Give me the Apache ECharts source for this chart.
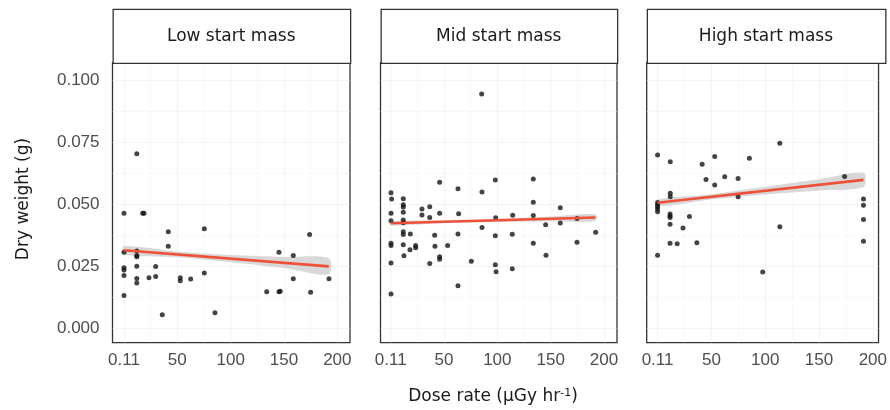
<!DOCTYPE html>
<html>
<head>
<meta charset="utf-8">
<script src="https://cdn.jsdelivr.net/npm/echarts@6/dist/echarts.min.js"></script>
<style>
html,body{margin:0;padding:0;background:#fff;}
#chart{width:890px;height:410px;}
</style>
</head>
<body>
<div id="chart"></div>
<script>
// ---------- data ----------
const panelTitles = ['Low start mass', 'Mid start mass', 'High start mass'];

const lowX = [12, 0, 17.5, 18.8, 41.5, 75.3, 174, 41.5, 0, 12, 12, 12, 145.3, 158.7, 12, 29.7, 0, 0, 0, 12, 12, 23.4, 29.7, 52.8, 52.8, 62.5, 75.3, 158.7, 192.2, 0, 133.8, 145.3, 146.5, 175, 35.9, 85.3];
const lowY = [0.0705, 0.0464, 0.0464, 0.0464, 0.0390, 0.0402, 0.0379, 0.0331, 0.0307, 0.0312, 0.0294, 0.0289, 0.0307, 0.0294, 0.0251, 0.0250, 0.0244, 0.0235, 0.0213, 0.0201, 0.0183, 0.0204, 0.0209, 0.0204, 0.0192, 0.0199, 0.0223, 0.0200, 0.0200, 0.0132, 0.0148, 0.0148, 0.0150, 0.0146, 0.0055, 0.0063];

const midX = [85.3, 0.3, 0.9, 11.8, 11.8, 11.8, 11.8, 11.8, 11.8, 11.8, 11.8, 11.8, 12.4, 45.9, 63.1, 98.1, 133.7, 85.6, 133.7, 29.3, 36.6, 159, 0.3, 0.3, 0.3, 0.3, 0.3, 0.3, 18.4, 18.1, 23.4, 23.4, 29.3, 36.6, 36.6, 41.2, 41.5, 45.9, 45.9, 45.9, 53.4, 63.7, 63.1, 63.1, 75.6, 85.6, 98.4, 98.1, 98.1, 98.8, 114.4, 114, 114, 133.7, 133.7, 145.3, 145.6, 159, 174.7, 174.7, 192.2];
const midY = [0.0946, 0.0547, 0.0522, 0.0523, 0.0499, 0.0490, 0.0468, 0.0437, 0.0426, 0.0390, 0.0379, 0.0337, 0.0293, 0.0590, 0.0563, 0.0599, 0.0603, 0.0550, 0.0509, 0.0482, 0.0491, 0.0487, 0.0464, 0.0434, 0.0343, 0.0334, 0.0264, 0.0139, 0.0381, 0.0317, 0.0334, 0.0325, 0.0457, 0.0447, 0.0262, 0.0376, 0.0331, 0.0464, 0.0289, 0.0279, 0.0334, 0.0462, 0.0381, 0.0172, 0.0271, 0.0407, 0.0446, 0.0374, 0.0257, 0.0228, 0.0456, 0.0380, 0.0240, 0.0455, 0.0343, 0.0418, 0.0295, 0.0425, 0.0443, 0.0347, 0.0388];

const highX = [0, 11.8, 41.4, 53.1, 85.3, 113.6, 45, 62.4, 53.1, 74.8, 173.8, 11.8, 11.8, 74.8, 191.3, 191.3, 0, 0, 0, 0, 0, 11.6, 11.6, 11.6, 11.6, 29.6, 23.6, 11.6, 18.2, 36.5, 0, 113.6, 97.7, 191.3, 191.3];
const highY = [0.0700, 0.0672, 0.0662, 0.0693, 0.0686, 0.0747, 0.0601, 0.0612, 0.0578, 0.0605, 0.0613, 0.0545, 0.0531, 0.0531, 0.0522, 0.0497, 0.0508, 0.0499, 0.0491, 0.0482, 0.0470, 0.0461, 0.0453, 0.0447, 0.0420, 0.0451, 0.0405, 0.0343, 0.0341, 0.0345, 0.0295, 0.0410, 0.0227, 0.0439, 0.0351];

// fitted trend lines (endpoints)
const fitX = [[0, 192], [0, 192], [0, 191.3]];
const fitY = [[0.0315, 0.0250], [0.0424, 0.0447], [0.0507, 0.0599]];

// confidence ribbons
const ribbonX = [[0, 50, 100, 150, 192], [0, 50, 100, 150, 192], [0, 50, 100, 150, 191.3]];
const ribbonLow = [[0.0298, 0.0287, 0.0267, 0.0243, 0.0218], [0.0415, 0.0425, 0.0429, 0.0432, 0.0433], [0.0493, 0.0520, 0.0540, 0.0556, 0.0570]];
const ribbonHigh = [[0.0332, 0.0310, 0.0296, 0.0288, 0.0283], [0.0432, 0.0435, 0.0441, 0.0451, 0.0460], [0.0520, 0.0541, 0.0571, 0.0602, 0.0628]];

// axis ticks
const xTicks = [0, 50, 100, 150, 200];
const xTickLabels = ['0.11', '50', '100', '150', '200'];
const xMinor = [25, 75, 125, 175];
const yTicks = [0, 0.025, 0.05, 0.075, 0.1];
const yTickLabels = ['0.000', '0.025', '0.050', '0.075', '0.100'];
const yMinor = [0.0125, 0.0375, 0.0625, 0.0875];

// ---------- layout ----------
const gridLeft = [112.5, 380.5, 646.7];
const gridWidth = [237.5, 236.5, 238.5];
const gridTop = 62.7, gridHeight = 280, stripTop = 8.7;
const xMin = [-10.78, -9.56, -10.1];
const xMax = [211.9, 212.2, 205.3];
const yMin = -0.0058, yMax = 0.1072;

const pointsX = [lowX, midX, highX];
const pointsY = [lowY, midY, highY];

const TICK_FONT = '"Liberation Sans", Arial, sans-serif';
const TITLE_FONT = '"DejaVu Sans", sans-serif';
const FRAME = '#333333';

const grids = [], xAxes = [], yAxes = [], series = [], graphics = [];

for (let i = 0; i < 3; i++) {
  grids.push({
    left: gridLeft[i], top: gridTop, width: gridWidth[i], height: gridHeight,
    show: true, borderColor: FRAME, borderWidth: 1.3, backgroundColor: '#fff', containLabel: false
  });
  xAxes.push({
    gridIndex: i, type: 'value', min: xMin[i], max: xMax[i],
    axisLine: { show: false }, axisTick: { show: false }, splitLine: { show: false },
    axisLabel: {
      customValues: xTicks,
      formatter: v => xTickLabels[xTicks.indexOf(v)] ?? '',
      fontSize: 17, color: '#4d4d4d', fontFamily: TICK_FONT, margin: 9
    }
  });
  yAxes.push({
    gridIndex: i, type: 'value', min: yMin, max: yMax,
    axisLine: { show: false }, axisTick: { show: false }, splitLine: { show: false },
    axisLabel: i === 0 ? {
      customValues: yTicks,
      formatter: v => yTickLabels[yTicks.findIndex(t => Math.abs(t - v) < 1e-9)] ?? '',
      fontSize: 17, color: '#4d4d4d', fontFamily: TICK_FONT, margin: 13
    } : { show: false }
  });

  // grid lines
  const gl = [];
  xMinor.forEach(v => gl.push({ coords: [[v, yMin], [v, yMax]], lineStyle: { color: '#f3f3f3', width: 1 } }));
  yMinor.forEach(v => gl.push({ coords: [[xMin[i], v], [xMax[i], v]], lineStyle: { color: '#f3f3f3', width: 1 } }));
  xTicks.forEach(v => gl.push({ coords: [[v, yMin], [v, yMax]], lineStyle: { color: '#e9e9e9', width: 1.2 } }));
  yTicks.forEach(v => gl.push({ coords: [[xMin[i], v], [xMax[i], v]], lineStyle: { color: '#e9e9e9', width: 1.2 } }));
  series.push({
    type: 'lines', coordinateSystem: 'cartesian2d', xAxisIndex: i, yAxisIndex: i,
    silent: true, z: 1, symbol: 'none', data: gl, animation: false
  });

  // ribbon
  const rx = ribbonX[i], rl = ribbonLow[i], rh = ribbonHigh[i];
  series.push({
    type: 'custom', xAxisIndex: i, yAxisIndex: i, silent: true, z: 2,
    data: [[rx[0], rl[0]]],
    renderItem: (params, api) => {
      const pts = [];
      for (let k = 0; k < rx.length; k++) pts.push(api.coord([rx[k], rh[k]]));
      for (let k = rx.length - 1; k >= 0; k--) pts.push(api.coord([rx[k], rl[k]]));
      return { type: 'polygon', shape: { points: pts, smooth: 0.3 }, style: { fill: '#d4d4d4', opacity: 0.9 } };
    },
    animation: false
  });

  // points
  series.push({
    type: 'scatter', xAxisIndex: i, yAxisIndex: i, z: 3,
    symbol: 'circle', symbolSize: 5,
    itemStyle: { color: '#151515' },
    data: pointsX[i].map((x, k) => [x, pointsY[i][k]]),
    animation: false
  });

  // fitted line
  series.push({
    type: 'line', xAxisIndex: i, yAxisIndex: i, z: 4,
    symbol: 'none', lineStyle: { color: '#ee5038', width: 2.6 },
    data: fitX[i].map((x, k) => [x, fitY[i][k]]),
    animation: false
  });

  // strip
  graphics.push({
    type: 'rect', left: gridLeft[i], top: stripTop, z: 10,
    shape: { width: gridWidth[i], height: gridTop - stripTop },
    style: { fill: '#fff', stroke: FRAME, lineWidth: 1.3 }
  });
  graphics.push({
    type: 'text', z: 11,
    x: gridLeft[i] + gridWidth[i] / 2, y: (stripTop + gridTop) / 2 + 1,
    style: { text: panelTitles[i], font: '17px ' + TITLE_FONT, fill: '#1a1a1a', textAlign: 'center', textVerticalAlign: 'middle' }
  });
}

// axis titles
graphics.push({
  type: 'text', z: 11, x: 24, y: 199, rotation: Math.PI / 2,
  style: { text: 'Dry weight (g)', font: '17px ' + TITLE_FONT, fill: '#1a1a1a', textAlign: 'center', textVerticalAlign: 'middle' }
});
graphics.push({
  type: 'text', z: 11, x: 493, y: 397,
  style: {
    text: '{a|Dose rate (µGy hr}{s|-1}{a|)}',
    rich: {
      a: { font: '17px ' + TITLE_FONT, fill: '#1a1a1a' },
      s: { font: '11px ' + TITLE_FONT, fill: '#1a1a1a', verticalAlign: 'top', padding: [0, 0, 8, 0] }
    },
    textAlign: 'center', textVerticalAlign: 'middle'
  }
});

const chart = echarts.init(document.getElementById('chart'), null, { renderer: 'canvas' });
chart.setOption({
  animation: false,
  backgroundColor: '#fff',
  grid: grids, xAxis: xAxes, yAxis: yAxes, series: series, graphic: graphics
});
</script>
</body>
</html>
